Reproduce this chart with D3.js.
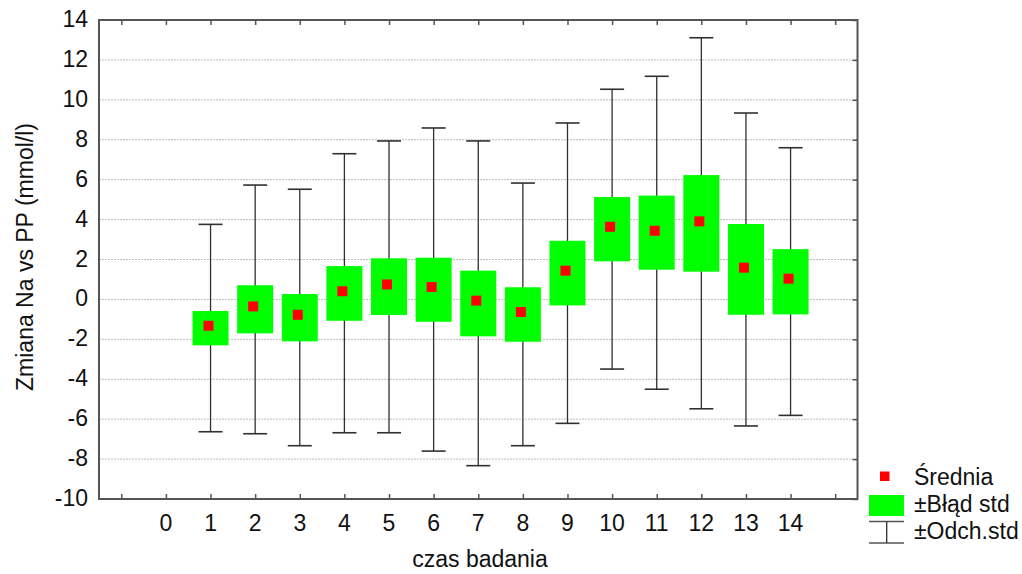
<!DOCTYPE html>
<html>
<head>
<meta charset="utf-8">
<script src="https://cdn.jsdelivr.net/npm/d3@7"></script>
<style>
  body { margin: 0; background: #fff; }
  svg { display: block; font-family: "Liberation Sans", Arial, sans-serif; }
</style>
</head>
<body>
<div id="chart"></div>
<script>
// czas badania (time points)
const categories = [1, 2, 3, 4, 5, 6, 7, 8, 9, 10, 11, 12, 13, 14];
const tickLabels = [0, 1, 2, 3, 4, 5, 6, 7, 8, 9, 10, 11, 12, 13, 14];
const yTicks = [-10, -8, -6, -4, -2, 0, 2, 4, 6, 8, 10, 12, 14];

// Średnia
const means = [-1.32, -0.35, -0.77, 0.41, 0.75, 0.62, -0.06, -0.63, 1.44, 3.64, 3.44, 3.91, 1.59, 1.04];
// ±Błąd std (box top / bottom)
const seHigh = [-0.58, 0.71, 0.27, 1.67, 2.06, 2.09, 1.44, 0.61, 2.94, 5.13, 5.20, 6.23, 3.78, 2.52];
const seLow = [-2.30, -1.70, -2.10, -1.07, -0.78, -1.12, -1.85, -2.12, -0.30, 1.91, 1.49, 1.39, -0.77, -0.75];
// ±Odch.std (whiskers)
const sdHigh = [3.76, 5.73, 5.52, 7.30, 7.94, 8.59, 7.94, 5.83, 8.84, 10.53, 11.18, 13.11, 9.34, 7.60];
const sdLow = [-6.63, -6.73, -7.33, -6.68, -6.68, -7.60, -8.33, -7.33, -6.21, -3.49, -4.50, -5.48, -6.34, -5.81];

const width = 1022, height = 574;
const margin = { top: 20, right: 165, bottom: 75, left: 99 };
const fontSize = 23;

const svg = d3.select("#chart").append("svg")
    .attr("width", width)
    .attr("height", height);

const x = d3.scaleLinear()
    .domain([-1.5, 15.5])
    .range([margin.left, width - margin.right + 0.5]);

const y = d3.scaleLinear()
    .domain([-10, 14])
    .range([height - margin.bottom, margin.top]);

const boxW = 36, capW = 24, markSize = 10;

// dotted grid
svg.append("g")
    .selectAll("line")
    .data(yTicks.filter(d => d > -10 && d < 14))
    .join("line")
    .attr("x1", x(-1.5)).attr("x2", x(15.5))
    .attr("y1", d => y(d)).attr("y2", d => y(d))
    .attr("stroke", "#bdbdbd")
    .attr("stroke-width", 1)
    .attr("stroke-dasharray", "2,1");

// whiskers (behind the boxes)
const whisk = svg.append("g").attr("stroke", "#303030");
whisk.selectAll("line.v")
    .data(categories)
    .join("line")
    .attr("class", "v")
    .attr("x1", d => x(d)).attr("x2", d => x(d))
    .attr("y1", (d, i) => y(sdHigh[i])).attr("y2", (d, i) => y(sdLow[i]))
    .attr("stroke-width", 1.3);
whisk.selectAll("line.top")
    .data(categories)
    .join("line")
    .attr("class", "top")
    .attr("x1", d => x(d) - capW / 2).attr("x2", d => x(d) + capW / 2)
    .attr("y1", (d, i) => y(sdHigh[i])).attr("y2", (d, i) => y(sdHigh[i]))
    .attr("stroke-width", 1.6);
whisk.selectAll("line.bot")
    .data(categories)
    .join("line")
    .attr("class", "bot")
    .attr("x1", d => x(d) - capW / 2).attr("x2", d => x(d) + capW / 2)
    .attr("y1", (d, i) => y(sdLow[i])).attr("y2", (d, i) => y(sdLow[i]))
    .attr("stroke-width", 1.6);

// ±SE boxes
svg.append("g")
    .selectAll("rect")
    .data(categories)
    .join("rect")
    .attr("x", d => x(d) - boxW / 2)
    .attr("width", boxW)
    .attr("y", (d, i) => y(seHigh[i]))
    .attr("height", (d, i) => y(seLow[i]) - y(seHigh[i]))
    .attr("fill", "#00ff00");

// means
svg.append("g")
    .selectAll("rect")
    .data(categories)
    .join("rect")
    .attr("x", d => x(d) - 2 - markSize / 2)
    .attr("y", (d, i) => y(means[i]) - markSize / 2)
    .attr("width", markSize)
    .attr("height", markSize)
    .attr("fill", "#ff0000");

// frame + inward ticks
const frameColor = "#555";
const xt = d3.range(-1, 16);
svg.append("g")
    .attr("transform", `translate(0,${y(-10)})`)
    .call(d3.axisBottom(x).tickValues(xt).tickSize(-5).tickFormat(""))
    .call(g => g.select(".domain").remove())
    .call(g => g.selectAll(".tick line").attr("stroke", frameColor).attr("stroke-width", 1.5));
svg.append("g")
    .attr("transform", `translate(0,${y(14)})`)
    .call(d3.axisTop(x).tickValues(xt).tickSize(-5).tickFormat(""))
    .call(g => g.select(".domain").remove())
    .call(g => g.selectAll(".tick line").attr("stroke", frameColor).attr("stroke-width", 1.5));
svg.append("g")
    .attr("transform", `translate(${x(15.5)},0)`)
    .call(d3.axisRight(y).tickValues(yTicks).tickSize(-5).tickFormat(""))
    .call(g => g.select(".domain").remove())
    .call(g => g.selectAll(".tick line").attr("stroke", frameColor).attr("stroke-width", 1.5));

svg.append("rect")
    .attr("x", x(-1.5)).attr("y", y(14))
    .attr("width", x(15.5) - x(-1.5))
    .attr("height", y(-10) - y(14))
    .attr("fill", "none")
    .attr("stroke", frameColor)
    .attr("stroke-width", 2);

// tick labels
svg.append("g")
    .selectAll("text")
    .data(yTicks)
    .join("text")
    .attr("x", x(-1.5) - 11)
    .attr("y", d => y(d) + 7)
    .attr("text-anchor", "end")
    .attr("font-size", fontSize)
    .attr("fill", "#111")
    .text(d => d);

svg.append("g")
    .selectAll("text")
    .data(tickLabels)
    .join("text")
    .attr("x", d => x(d))
    .attr("y", y(-10) + 32)
    .attr("text-anchor", "middle")
    .attr("font-size", fontSize)
    .attr("fill", "#111")
    .text(d => d);

// axis titles
svg.append("text")
    .attr("x", 480)
    .attr("y", 567)
    .attr("text-anchor", "middle")
    .attr("font-size", fontSize)
    .attr("fill", "#111")
    .text("czas badania");

svg.append("text")
    .attr("transform", `translate(33,257) rotate(-90)`)
    .attr("text-anchor", "middle")
    .attr("font-size", fontSize)
    .attr("fill", "#111")
    .text("Zmiana Na vs PP (mmol/l)");

// legend
const lg = svg.append("g");
lg.append("rect")
    .attr("x", 880).attr("y", 471.5)
    .attr("width", 9.5).attr("height", 9.5)
    .attr("fill", "#ff0000");
lg.append("rect")
    .attr("x", 869).attr("y", 495)
    .attr("width", 35).attr("height", 21)
    .attr("fill", "#00ff00");
lg.append("line")
    .attr("x1", 869).attr("x2", 904).attr("y1", 521.5).attr("y2", 521.5)
    .attr("stroke", "#555").attr("stroke-width", 1.6);
lg.append("line")
    .attr("x1", 869).attr("x2", 904).attr("y1", 543).attr("y2", 543)
    .attr("stroke", "#555").attr("stroke-width", 1.6);
lg.append("line")
    .attr("x1", 886.7).attr("x2", 886.7).attr("y1", 521.5).attr("y2", 543)
    .attr("stroke", "#303030").attr("stroke-width", 1.3);

const legendLabels = ["Średnia", "±Błąd std", "±Odch.std"];
lg.selectAll("text")
    .data(legendLabels)
    .join("text")
    .attr("x", 914)
    .attr("y", (d, i) => 485 + i * 27)
    .attr("font-size", fontSize)
    .attr("fill", "#111")
    .text(d => d);
</script>
</body>
</html>
